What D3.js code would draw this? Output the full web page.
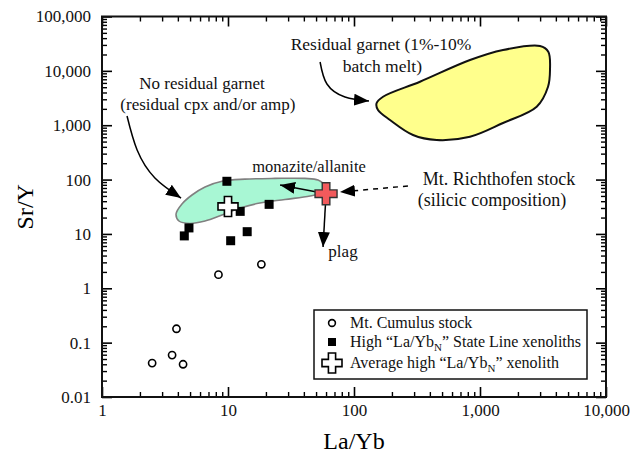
<!DOCTYPE html>
<html>
<head>
<meta charset="utf-8">
<script src="https://cdn.jsdelivr.net/npm/d3@7"></script>
</head>
<body style="margin:0">
<svg id="chart" width="631" height="457" font-family="Liberation Serif"></svg>
<script>
// Mt. Cumulus stock (La/Yb, Sr/Y)
const cumulusLaYb = [2.5, 3.6, 3.9, 4.4, 8.4, 18.4];
const cumulusSrY = [0.042, 0.059, 0.18, 0.040, 1.78, 2.76];

// High "La/YbN" State Line xenoliths
const xenoLaYb = [9.8, 12.5, 21.2, 4.9, 4.5, 14.2, 10.5];
const xenoSrY = [93, 26, 35, 12.9, 9.2, 11, 7.5];

// average xenolith and Mt. Richthofen stock
const avgXeno = [10, 32];
const richthofen = [60, 55];

// field outlines
const noGarnetLaYb = [3.87, 4.31, 5.18, 6.57, 9.13, 13.6, 23.6, 40.8, 51.8, 57.8, 56.7, 44.8, 28.3, 17.9, 12.5, 8.96, 6.57, 4.99, 4.08];
const noGarnetSrY = [23.2, 35.5, 52, 73, 94, 102, 105, 105, 98, 79, 59, 49.9, 43, 37, 30, 22.3, 17.3, 15.6, 17.3];
const garnetLaYb = [151, 170, 334, 833, 1523, 2993, 3484, 3594, 3467, 2818, 1523, 833, 453, 294, 193, 155];
const garnetSrY = [2530, 3340, 6310, 15800, 24200, 28600, 22500, 10400, 5110, 2190, 1100, 614, 535, 661, 1250, 1900];

// axis ticks
const xTicks = [1, 10, 100, 1000, 10000];
const xTickLabels = ["1", "10", "100", "1,000", "10,000"];
const yTicks = [0.01, 0.1, 1, 10, 100, 1000, 10000, 100000];
const yTickLabels = ["0.01", "0.1", "1", "10", "100", "1,000", "10,000", "100,000"];

// annotation arrows, in data units
const garnetArrow = [[53.8, 14550], [61, 5730], [84.8, 3300], [131.5, 2790]];
const noGarnetArrow = [[1.58, 1476], [1.9, 350], [2.63, 107], [4.24, 45.8]];
const monaziteArrow = [[60, 55], [25.9, 79.4]];
const plagArrow = [[60, 55], [56.8, 5.74]];
const stockArrow = [[268, 76.2], [77.4, 59]];

const serif = "Liberation Serif";
const mLeft = 102, mRight = 606, mTop = 16.5, mBottom = 397;

const svg = d3.select("#chart");

const xScale = d3.scaleLog().domain([1, 10000]).range([mLeft, mRight]);
const yScale = d3.scaleLog().domain([0.01, 100000]).range([mBottom, mTop]);

const defs = svg.append("defs");
defs.append("marker")
  .attr("id", "head")
  .attr("markerUnits", "userSpaceOnUse")
  .attr("markerWidth", 16).attr("markerHeight", 12)
  .attr("refX", 15).attr("refY", 6)
  .attr("orient", "auto")
  .append("path")
  .attr("d", "M0,0 L15,6 L0,12 Z")
  .attr("fill", "#000");

// fields
const field = d3.line()
  .x(d => xScale(d[0]))
  .y(d => yScale(d[1]))
  .curve(d3.curveCatmullRomClosed.alpha(0.5));

svg.append("path")
  .attr("d", field(d3.zip(garnetLaYb, garnetSrY)))
  .attr("fill", "#ffff8c")
  .attr("stroke", "#111")
  .attr("stroke-width", 2);

svg.append("path")
  .attr("d", field(d3.zip(noGarnetLaYb, noGarnetSrY)))
  .attr("fill", "#a8f7d4")
  .attr("stroke", "#808080")
  .attr("stroke-width", 1.6);

// axes
const xMinor = xScale.ticks().filter(v => !xTicks.includes(v));
const yMinor = yScale.ticks().filter(v => !yTicks.includes(v));

function addAxis(axisFn, scale, majors, minors, labels, transform, pad) {
  svg.append("g")
    .attr("transform", transform)
    .call(axisFn(scale).tickValues(minors).tickSizeInner(-5).tickSizeOuter(0).tickFormat(""))
    .call(g => g.select(".domain").remove())
    .call(g => g.selectAll("line").attr("stroke-width", 1.4));
  const g = svg.append("g")
    .attr("transform", transform)
    .call(axisFn(scale).tickValues(majors).tickSizeInner(-10).tickSizeOuter(0).tickPadding(pad)
      .tickFormat(labels ? (d, i) => labels[i] : ""));
  g.attr("font-family", serif).attr("font-size", 17);
  g.select(".domain").remove();
  g.selectAll("line").attr("stroke-width", 1.6);
  g.selectAll("text").attr("font-size", 17).attr("font-family", serif).attr("fill", "#111");
}

addAxis(d3.axisBottom, xScale, xTicks, xMinor, xTickLabels, `translate(0,${mBottom})`, 7);
addAxis(d3.axisTop, xScale, xTicks, xMinor, null, `translate(0,${mTop})`, 3);
addAxis(d3.axisLeft, yScale, yTicks, yMinor, yTickLabels, `translate(${mLeft},0)`, 11);
addAxis(d3.axisRight, yScale, yTicks, yMinor, null, `translate(${mRight},0)`, 3);

svg.append("rect")
  .attr("x", mLeft).attr("y", mTop)
  .attr("width", mRight - mLeft).attr("height", mBottom - mTop)
  .attr("fill", "none")
  .attr("stroke", "#111")
  .attr("stroke-width", 2);

// axis titles
svg.append("text")
  .attr("x", (mLeft + mRight) / 2).attr("y", 449)
  .attr("text-anchor", "middle")
  .attr("font-family", serif)
  .attr("font-size", 24)
  .text("La/Yb");

svg.append("text")
  .attr("transform", `translate(33,${(mTop + mBottom) / 2}) rotate(-90)`)
  .attr("text-anchor", "middle")
  .attr("font-family", serif)
  .attr("font-size", 24)
  .text("Sr/Y");

// arrows
const curve = d3.line()
  .x(d => xScale(d[0]))
  .y(d => yScale(d[1]))
  .curve(d3.curveNatural);

[garnetArrow, noGarnetArrow, monaziteArrow, plagArrow].forEach(a => {
  svg.append("path")
    .attr("d", curve(a))
    .attr("fill", "none")
    .attr("stroke", "#000")
    .attr("stroke-width", 1.5)
    .attr("marker-end", "url(#head)");
});

svg.append("path")
  .attr("d", curve(stockArrow))
  .attr("fill", "none")
  .attr("stroke", "#000")
  .attr("stroke-width", 1.5)
  .attr("stroke-dasharray", "5,5")
  .attr("marker-end", "url(#head)");

// markers
const plus = (s, a) => `M${-a},${-s}H${a}V${-a}H${s}V${a}H${a}V${s}H${-a}V${a}H${-s}V${-a}H${-a}Z`;

svg.append("g")
  .selectAll("circle")
  .data(d3.zip(cumulusLaYb, cumulusSrY))
  .enter()
  .append("circle")
  .attr("cx", d => xScale(d[0]))
  .attr("cy", d => yScale(d[1]))
  .attr("r", 3.6)
  .attr("fill", "#fff")
  .attr("stroke", "#000")
  .attr("stroke-width", 1.6);

svg.append("g")
  .selectAll("rect")
  .data(d3.zip(xenoLaYb, xenoSrY))
  .enter()
  .append("rect")
  .attr("x", d => xScale(d[0]) - 4.5)
  .attr("y", d => yScale(d[1]) - 4.5)
  .attr("width", 9)
  .attr("height", 9)
  .attr("fill", "#000");

svg.append("path")
  .attr("transform", `translate(${xScale(avgXeno[0])},${yScale(avgXeno[1])})`)
  .attr("d", plus(10, 3.6))
  .attr("fill", "#fff")
  .attr("stroke", "#000")
  .attr("stroke-width", 1.6);

svg.append("path")
  .attr("transform", `translate(${xScale(richthofen[0])},${yScale(richthofen[1])})`)
  .attr("d", plus(11, 3.8))
  .attr("fill", "#f25a5c")
  .attr("stroke", "#333")
  .attr("stroke-width", 1.4);

// annotation text
const notes = [
  { t: "Residual garnet (1%-10%", x: 164, y: 24200, s: 17.5 },
  { t: "batch melt)", x: 168, y: 9520, s: 17.5 },
  { t: "No residual garnet", x: 6.22, y: 4630, s: 17 },
  { t: "(residual cpx and/or amp)", x: 6.93, y: 1900, s: 17 },
  { t: "monazite/allanite", x: 44, y: 138, s: 16.5 },
  { t: "plag", x: 81.8, y: 3.76, s: 17 },
  { t: "Mt. Richthofen stock", x: 1415, y: 79.4, s: 18 },
  { t: "(silicic composition)", x: 1245, y: 32.6, s: 18 }
];

svg.append("g")
  .selectAll("text")
  .data(notes)
  .enter()
  .append("text")
  .attr("x", d => xScale(d.x))
  .attr("y", d => yScale(d.y))
  .attr("text-anchor", "middle")
  .attr("font-family", serif)
  .attr("font-size", d => d.s)
  .attr("fill", "#111")
  .text(d => d.t);

// legend
const lg = svg.append("g").attr("transform", "translate(314,310)");
lg.append("rect")
  .attr("width", 273).attr("height", 69)
  .attr("fill", "#fff")
  .attr("stroke", "#111")
  .attr("stroke-width", 1.5);

lg.append("circle")
  .attr("cx", 18).attr("cy", 13).attr("r", 3.4)
  .attr("fill", "#fff").attr("stroke", "#000").attr("stroke-width", 1.6);
lg.append("rect")
  .attr("x", 14).attr("y", 28).attr("width", 8).attr("height", 8)
  .attr("fill", "#000");
lg.append("path")
  .attr("transform", "translate(18,53)")
  .attr("d", plus(10, 3.6))
  .attr("fill", "#fff").attr("stroke", "#000").attr("stroke-width", 1.6);

const legText = lg.append("g")
  .attr("font-family", serif)
  .attr("font-size", 16)
  .attr("fill", "#111");

legText.append("text").attr("x", 36).attr("y", 18).text("Mt. Cumulus stock");

const t2 = legText.append("text").attr("x", 36).attr("y", 37);
t2.append("tspan").text("High \u201cLa/Yb");
t2.append("tspan").attr("font-size", 11).attr("dy", 4).text("N");
t2.append("tspan").attr("dy", -4).text("\u201d State Line xenoliths");

const t3 = legText.append("text").attr("x", 36).attr("y", 58);
t3.append("tspan").text("Average high \u201cLa/Yb");
t3.append("tspan").attr("font-size", 11).attr("dy", 4).text("N");
t3.append("tspan").attr("dy", -4).text("\u201d xenolith");
</script>
</body>
</html>
